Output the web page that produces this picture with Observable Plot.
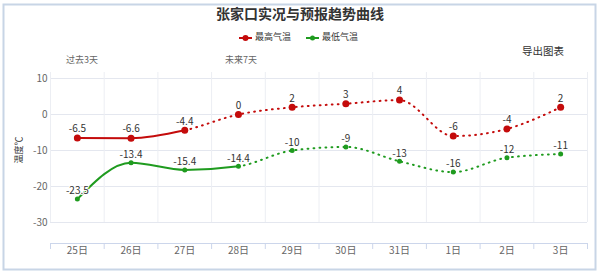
<!DOCTYPE html>
<html><head><meta charset="utf-8">
<script src="https://cdn.jsdelivr.net/npm/d3@7"></script>
<script src="https://cdn.jsdelivr.net/npm/@observablehq/plot@0.6"></script>
<style>
body{margin:0;background:#fff;}
#chart{position:relative;width:600px;height:274px;}
svg{font-family:"Noto Sans CJK SC","Noto Sans",sans-serif;}
</style></head><body><div id="chart"></div>
<script>
const days = ["25日","26日","27日","28日","29日","30日","31日","1日","2日","3日"];
const highTemps = [-6.5,-6.6,-4.4,0,2,3,4,-6,-4,2];
const lowTemps = [-23.5,-13.4,-15.4,-14.4,-10,-9,-13,-16,-12,-11];
const highObservedEnd = 2;
const lowObservedEnd = 3;
const yTicks = [10,0,-10,-20,-30];
const seriesNames = ["最高气温","最低气温"];
const periodLabels = ["过去3天","未来7天"];
const titleText = "张家口实况与预报趋势曲线";
const yLabel = "温度℃";
const exportText = "导出图表";

const red = "#c40b0b", green = "#1f9b1f";
const FONT = '"Noto Sans CJK SC","Noto Sans",sans-serif';
const data = days.map((d,i)=>({i, day:d, high:highTemps[i], low:lowTemps[i]}));
const boundaries = d3.range(days.length+1).map(i=>i-0.5);
const fmt = v => String(v);

const chart = Plot.plot({
  width:600, height:274,
  marginTop:78, marginBottom:52, marginLeft:50, marginRight:13,
  x:{domain:[-0.5, days.length-0.5], axis:null},
  y:{domain:[-30,10], axis:null},
  style:{fontFamily:FONT, background:"transparent", overflow:"visible"},
  marks:[
    Plot.ruleY(yTicks,{stroke:"#e4e7ef", strokeWidth:1}),
    Plot.ruleX(boundaries,{y1:10, y2:-30, insetTop:-6, stroke:"#eceef3", strokeWidth:1}),
    Plot.ruleY([-30],{dy:21, stroke:"#ccd6eb"}),
    Plot.ruleX(boundaries,{y1:-30, y2:-30, insetBottom:-6, dy:21, stroke:"#ccd6eb"}),
    Plot.text(yTicks,{y:d=>d, text:fmt, frameAnchor:"left", textAnchor:"end", dx:-3, fill:"#666", fontSize:10}),
    Plot.text(data,{x:"i", text:"day", frameAnchor:"bottom", dy:31, fill:"#666", fontSize:10}),
    Plot.line(data,{x:"i", y:"high", curve:"monotone-x", stroke:red, strokeWidth:2}),
    Plot.line(data,{x:"i", y:"high", curve:"monotone-x", stroke:red, strokeWidth:2, strokeDasharray:"0.8,5.2", strokeLinecap:"round"}),
    Plot.line(data,{x:"i", y:"low", curve:"monotone-x", stroke:green, strokeWidth:2}),
    Plot.line(data,{x:"i", y:"low", curve:"monotone-x", stroke:green, strokeWidth:2, strokeDasharray:"0.8,5.2", strokeLinecap:"round"}),
    Plot.dot(data,{x:"i", y:"high", r:3.5, fill:red}),
    Plot.dot(data,{x:"i", y:"low", r:2.5, fill:green}),
    Plot.text(data,{x:"i", y:"high", text:d=>fmt(d.high), dy:-9, fill:"#333", stroke:"white", strokeWidth:2, fontSize:10}),
    Plot.text(data,{x:"i", y:"low", text:d=>fmt(d.low), dy:-8, fill:"#333", stroke:"white", strokeWidth:2, fontSize:10})
  ]
});
document.getElementById("chart").appendChild(chart);

const xs = chart.scale("x");
const svg = d3.select(chart);
const defs = svg.insert("defs",":first-child");
function clip(id, x0, x1){
  defs.append("clipPath").attr("id",id).append("rect")
    .attr("x",x0).attr("y",0).attr("width",x1-x0).attr("height",274);
}
clip("cHighSolid", 0, xs.apply(highObservedEnd));
clip("cHighDot", xs.apply(highObservedEnd), 600);
clip("cLowSolid", 0, xs.apply(lowObservedEnd));
clip("cLowDot", xs.apply(lowObservedEnd), 600);
const lineGroups = svg.selectAll('g[aria-label="line"]').nodes();
["cHighSolid","cHighDot","cLowSolid","cLowDot"].forEach((id,k)=>{
  if (lineGroups[k]) d3.select(lineGroups[k]).attr("clip-path",`url(#${id})`);
});

// frame border
svg.insert("rect",":first-child").attr("x",3.5).attr("y",4.5).attr("width",592).attr("height",265)
  .attr("fill","none").attr("stroke","#c8d5e6").attr("stroke-width",2);

const ann = svg.append("g").style("font-family",FONT).attr("text-anchor","start");
ann.append("text").attr("x",300).attr("y",15).attr("text-anchor","middle").attr("dominant-baseline","middle")
  .attr("font-size",14).attr("font-weight","bold").attr("fill","#333").text(titleText);
const legendItems = [{name:seriesNames[0], color:red, r:3, x:239},{name:seriesNames[1], color:green, r:2.5, x:306}];
legendItems.forEach(it=>{
  ann.append("line").attr("x1",it.x).attr("x2",it.x+13).attr("y1",38).attr("y2",38).attr("stroke",it.color).attr("stroke-width",2);
  ann.append("circle").attr("cx",it.x+6.5).attr("cy",38).attr("r",it.r).attr("fill",it.color);
  ann.append("text").attr("x",it.x+16).attr("y",38).attr("dominant-baseline","middle").attr("font-size",9).attr("fill","#333").text(it.name);
});
ann.append("text").attr("x",522).attr("y",52).attr("dominant-baseline","middle").attr("font-size",10.5).attr("fill","#333").text(exportText);
ann.append("text").attr("x",66).attr("y",61).attr("dominant-baseline","middle").attr("font-size",9).attr("fill","#666").text(periodLabels[0]);
ann.append("text").attr("x",225).attr("y",61).attr("dominant-baseline","middle").attr("font-size",9).attr("fill","#666").text(periodLabels[1]);
ann.append("text").attr("transform","translate(20,150) rotate(-90)").attr("text-anchor","middle").attr("dominant-baseline","middle")
  .attr("font-size",9).attr("fill","#333").text(yLabel);
</script></body></html>
